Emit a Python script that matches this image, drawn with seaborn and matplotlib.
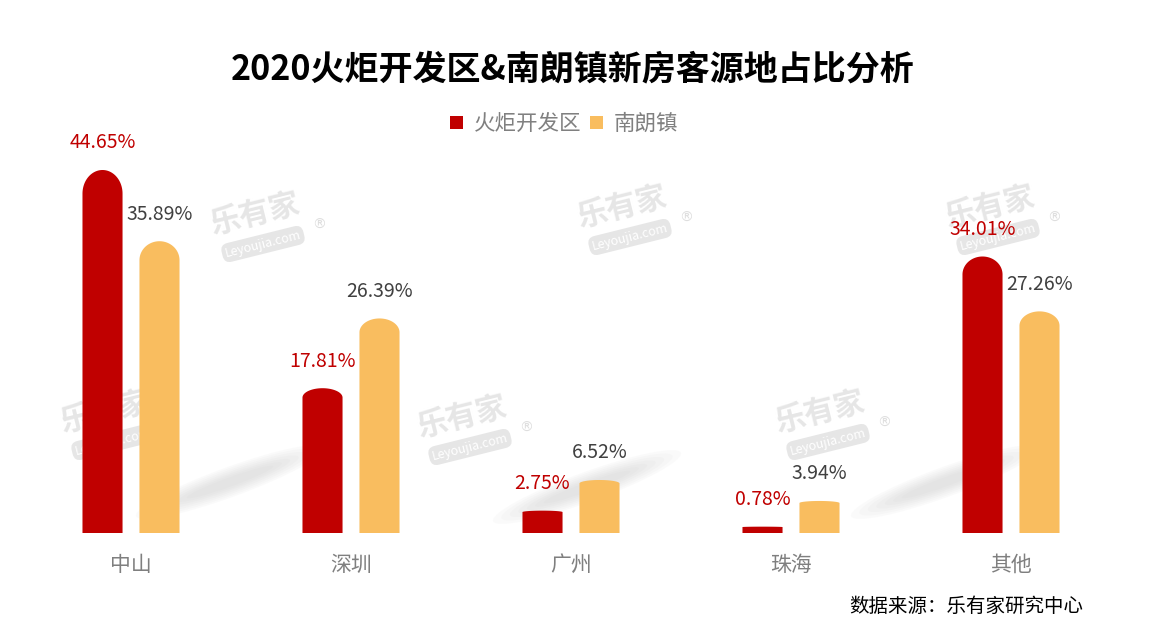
import numpy as np
import pandas as pd
import matplotlib
matplotlib.use("Agg")
import matplotlib.pyplot as plt
import seaborn as sns
from matplotlib.patches import Polygon, Patch, Ellipse
from matplotlib.transforms import IdentityTransform

categories = ["中山", "深圳", "广州", "珠海", "其他"]
series_names = ["火炬开发区", "南朗镇"]
huoju = [44.65, 17.81, 2.75, 0.78, 34.01]
nanlang = [35.89, 26.39, 6.52, 3.94, 27.26]
colors = ["#C00000", "#F9BD5F"]
label_colors = ["#C00000", "#404040"]

df = pd.DataFrame({
    "city": categories * 2,
    "series": [series_names[0]] * len(categories) + [series_names[1]] * len(categories),
    "value": huoju + nanlang,
})

sns.set_theme(style="white")
plt.rcParams["font.family"] = ["Noto Sans CJK SC", "DejaVu Sans"]

W, H = 1154, 642
fig = plt.figure(figsize=(W / 100, H / 100), dpi=100)
ax = fig.add_axes([21 / W, 109 / H, 1100 / W, 406.5 / H])

sns.barplot(data=df, x="city", y="value", hue="series", order=categories,
            hue_order=series_names, palette=colors, width=0.518, gap=0.297,
            legend=False, ax=ax, saturation=1)

ax.set_xlim(-0.5, 4.5)
ax.set_ylim(0, 50)

# watermarks (behind bars)
wm_pos = [(255, 222), (622, 215), (990, 215), (105, 420), (462, 425), (820, 420)]
for (px, py) in wm_pos:
    ax.text(px / W, 1 - (py - 8) / H, "乐有家", fontsize=22, fontweight="bold",
            color="#e6e6e6", rotation=14, ha="center", va="center", zorder=1,
            transform=fig.transFigure)
    ax.text((px + 8) / W, 1 - (py + 22) / H, "Leyoujia.com", fontsize=9, color="white",
            rotation=14, ha="center", va="center", zorder=1, transform=fig.transFigure,
            bbox=dict(boxstyle="round,pad=0.25,rounding_size=0.6", fc="#e6e6e6", ec="none"))
    ax.text((px + 64) / W, 1 - (py + 3) / H, "\u00ae", fontsize=10, color="#dedede",
            family="DejaVu Sans", ha="center", va="center", zorder=1,
            transform=fig.transFigure)

# soft diagonal shadows below lower watermarks (pixel coordinates)
for (px, py) in wm_pos[3:]:
    cx, cy = px + 125, py + 62
    for k in range(7):
        e = Ellipse((cx, H - cy), 200 - k * 18, 30 - k * 3.5, angle=20,
                    fc="#b0b0b0", ec="none", alpha=0.05, zorder=0.5,
                    transform=IdentityTransform())
        ax.add_artist(e)

bars = list(ax.patches[:2 * len(categories)])
for idx, p in enumerate(bars):
    x0 = p.get_x()
    w = p.get_width()
    h = p.get_height()
    rx = w / 2
    ry = 0.065 * h
    xc = x0 + rx
    t = np.linspace(np.pi, 0, 60)
    pts = [(x0, 0), (x0, h - ry)]
    pts += list(zip(xc + rx * np.cos(t), h - ry + ry * np.sin(t)))
    pts += [(x0 + w, h - ry), (x0 + w, 0)]
    poly = Polygon(pts, closed=True, fc=p.get_facecolor(), ec="none", zorder=2)
    p.set_visible(False)
    ax.add_patch(poly)
    s = 0 if idx < len(categories) else 1
    ax.annotate(f"{h:.2f}%", (xc, h), xytext=(0, 19.5), textcoords="offset points",
                ha="center", va="center", fontsize=14, color=label_colors[s], zorder=3)

ax.set_xlabel("")
ax.set_ylabel("")
ax.set_yticks([])
ax.tick_params(axis="x", length=0, pad=15, labelsize=15, labelcolor="#7f7f7f")
for sp in ax.spines.values():
    sp.set_visible(False)
ax.patch.set_alpha(0)

handles = [Patch(fc=c, ec="none") for c in colors]
leg = fig.legend(handles, series_names, loc="center", bbox_to_anchor=(0.489, 1 - 124 / H),
                 ncol=2, frameon=False, fontsize=15.5, handlelength=0.6, handleheight=0.6,
                 handletextpad=0.5, columnspacing=0.4)
for t in leg.get_texts():
    t.set_color("#808080")

fig.text(0.496, 1 - 69 / H, "2020火炬开发区&南朗镇新房客源地占比分析", fontsize=24.5,
         fontweight="bold", color="black", ha="center", va="center")
fig.text(1083 / W, 1 - 606 / H, "数据来源：乐有家研究中心", fontsize=14, color="black",
         ha="right", va="center")

fig.savefig("out.png", dpi=100, facecolor="white")
